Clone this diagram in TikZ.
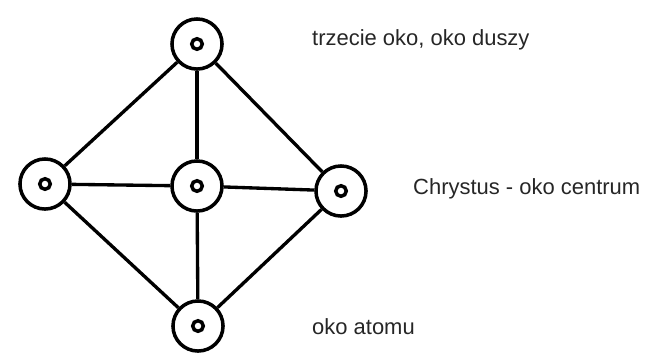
\documentclass[tikz,border=0pt]{standalone}
\usepackage{fontspec}
\setmainfont{Liberation Sans}
\usetikzlibrary{positioning}

\tikzset{
	eye/.style = {circle, draw, line width=2pt, minimum size=28.5pt, inner sep=0pt,
		path picture={\draw[line width=2pt] (path picture bounding box.center) circle (3pt);}},
	link/.style = {line width=1.9pt},
	caption/.style = {anchor=west, font=\fontsize{12.5}{14}\selectfont, text=black!85}
}

\begin{document}
\begin{tikzpicture}[x=0.02cm, y=-0.02cm]
		\useasboundingbox (0,0) rectangle (652,356);
	
		\node [eye] (top) at (197,44) {};
		\node [eye] (left) at (45,184) {};
		\node [eye] (centre) at (197,186) {};
		\node [eye] (right) at (341,191) {};
		\node [eye] (bottom) at (198,326) {};
	
		\begin{scope}[link]
			\draw (top) -- (left);
			\draw (top) -- (right);
			\draw (top) -- (centre);
			\draw (left) -- (centre);
			\draw (centre) -- (right);
			\draw (left) -- (bottom);
			\draw (right) -- (bottom);
			\draw (centre) -- (bottom);
		\end{scope}
	
		\node [caption] (soul) at (306,40) {trzecie oko, oko duszy};
		\node [caption] (christ) at (407,189) {Chrystus - oko centrum};
		\node [caption] (atom) at (306,327) {oko atomu};
	\end{tikzpicture}
\end{document}
